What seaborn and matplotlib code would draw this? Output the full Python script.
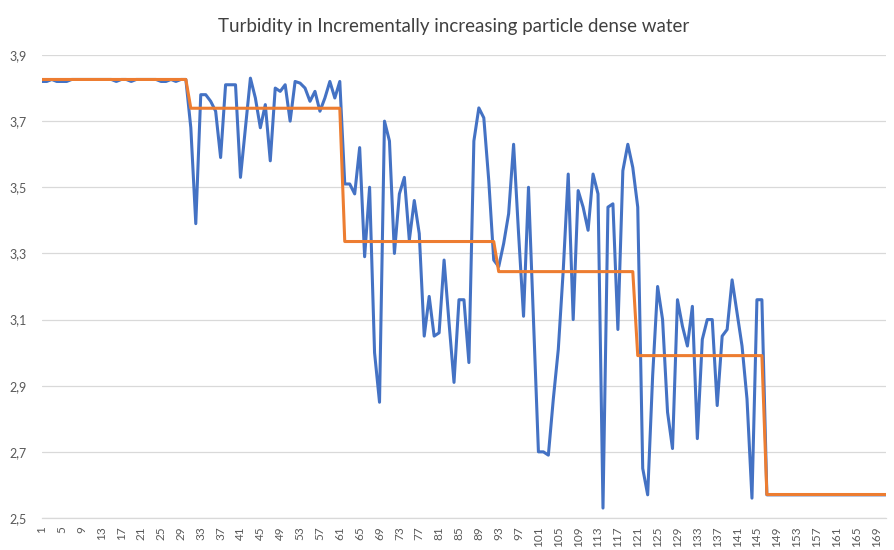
import numpy as np
import pandas as pd
import matplotlib
matplotlib.use("Agg")
import matplotlib.pyplot as plt
import seaborn as sns

# Measured turbidity per sample, grouped by particle-concentration stage
turbidity_stage1 = [3.82, 3.82, 3.826, 3.82, 3.82, 3.82, 3.826, 3.826, 3.826, 3.826,
                    3.826, 3.826, 3.826, 3.826, 3.826, 3.82, 3.826, 3.826, 3.82, 3.826,
                    3.826, 3.826, 3.826, 3.826, 3.82, 3.82, 3.826, 3.82, 3.826, 3.826]
turbidity_stage2 = [3.68, 3.39, 3.78, 3.78, 3.76, 3.73, 3.59, 3.81, 3.81, 3.81,
                    3.53, 3.68, 3.83, 3.77, 3.68, 3.75, 3.58, 3.80, 3.79, 3.81,
                    3.70, 3.82, 3.815, 3.80, 3.76, 3.79, 3.73, 3.77, 3.82, 3.77,
                    3.82]
turbidity_stage3 = [3.51, 3.51, 3.48, 3.62, 3.29, 3.50, 3.00, 2.85, 3.70, 3.64,
                    3.30, 3.48, 3.53, 3.34, 3.46, 3.36, 3.05, 3.17, 3.05, 3.06,
                    3.28, 3.09, 2.91, 3.16, 3.16, 2.97, 3.64, 3.74, 3.71, 3.52,
                    3.28]
turbidity_stage4 = [3.26, 3.33, 3.42, 3.63, 3.36, 3.11, 3.50, 3.10, 2.70, 2.70,
                    2.69, 2.86, 3.01, 3.25, 3.54, 3.10, 3.49, 3.44, 3.37, 3.54,
                    3.48, 2.53, 3.44, 3.45, 3.07, 3.55, 3.63, 3.56]
turbidity_stage5 = [3.44, 2.65, 2.57, 2.93, 3.20, 3.10, 2.82, 2.71, 3.16, 3.08,
                    3.02, 3.14, 2.74, 3.04, 3.10, 3.10, 2.84, 3.05, 3.07, 3.22,
                    3.12, 3.02, 2.86, 2.56, 3.16, 3.16]
turbidity_stage6 = [2.57] * 25

# Stage averages and the number of samples in each stage
stage_levels = [3.826, 3.739, 3.336, 3.245, 2.991, 2.571]
stage_lengths = [30, 31, 31, 28, 26, 25]

y_ticks = [2.5, 2.7, 2.9, 3.1, 3.3, 3.5, 3.7, 3.9]
title = "Turbidity in Incrementally increasing particle dense water"

turbidity = (turbidity_stage1 + turbidity_stage2 + turbidity_stage3 +
             turbidity_stage4 + turbidity_stage5 + turbidity_stage6)
sample = np.arange(1, len(turbidity) + 1)
level = np.repeat(stage_levels, stage_lengths)
df = pd.DataFrame({"sample": sample, "turbidity": turbidity, "level": level})

sns.set_theme(style="white")
plt.rcParams["font.family"] = ["Lato", "DejaVu Sans"]

fig = plt.figure(figsize=(8.94, 5.5), dpi=100)
ax = fig.add_axes([0.0468, 0.0582, 0.9443, 0.8418])

sns.lineplot(data=df, x="sample", y="turbidity", color="#4472C4",
             linewidth=2.2, solid_joinstyle="round", solid_capstyle="round",
             ax=ax)
sns.lineplot(data=df, x="sample", y="level", color="#ED7D31",
             linewidth=2.2, solid_joinstyle="round", solid_capstyle="round",
             ax=ax)

ax.set_xlim(1, len(turbidity))
ax.set_ylim(2.5, 3.9)
ax.set_xlabel("")
ax.set_ylabel("")

ax.set_yticks(y_ticks)
ax.set_yticklabels([f"{v:.1f}".replace(".", ",") for v in y_ticks])
x_ticks = list(range(1, len(turbidity) + 1, 4))
ax.set_xticks(x_ticks)
ax.set_xticklabels([str(t) for t in x_ticks], rotation=90)

ax.tick_params(axis="y", length=0, pad=11, labelsize=9, labelcolor="#595959")
ax.tick_params(axis="x", length=0, pad=6, labelsize=8.5, labelcolor="#595959")

ax.yaxis.grid(True, color="#d9d9d9", linewidth=0.9)
ax.xaxis.grid(False)
ax.set_axisbelow(True)
for side in ["top", "right", "left"]:
    ax.spines[side].set_visible(False)
ax.spines["bottom"].set_color("#d9d9d9")
ax.spines["bottom"].set_linewidth(0.9)

fig.text(0.507, 0.951, title, ha="center", va="center",
         fontsize=13.5, color="#404040")

fig.savefig("out.png", dpi=100, facecolor="white")
